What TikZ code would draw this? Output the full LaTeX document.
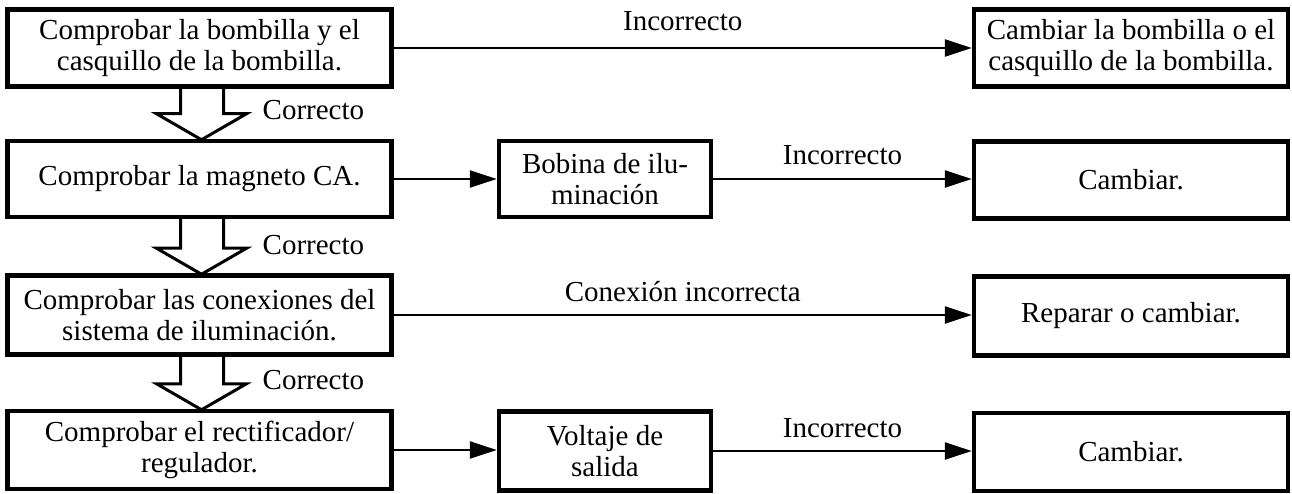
\documentclass[tikz,border=0pt]{standalone}
\usepackage{fontspec}
\setmainfont{Liberation Serif}
\usetikzlibrary{arrows.meta,calc}
\begin{document}
\begin{tikzpicture}[x=1pt,y=-1pt,
  box/.style={draw,line width=4.5pt,rectangle,align=center,inner sep=0pt,
    font=\fontsize{29}{31}\selectfont},
  conn/.style={line width=2.5pt,-{Triangle[length=27pt,width=17pt]}},
  lbl/.style={font=\fontsize{29}{31}\selectfont,inner sep=0pt},
  hollow/.style={line width=3pt,line join=miter}]
\fill[white] (0,0) rectangle (1292,494);
\useasboundingbox (0,0) rectangle (1292,494);
% left column
\node[box,minimum width=384pt,minimum height=77pt] (l1) at (199.5,48) {Comprobar la bombilla y el\\casquillo de la bombilla.};
\node[box,minimum width=384pt,minimum height=76pt] (l2) at (199.5,179) {Comprobar la magneto CA.};
\node[box,minimum width=384pt,minimum height=79pt] (l3) at (199.5,315) {Comprobar las conexiones del\\sistema de iluminación.};
\node[box,minimum width=384pt,minimum height=78pt] (l4) at (199.5,450) {Comprobar el rectificador/\\regulador.};
% middle column
\node[box,minimum width=212pt,minimum height=76pt] (m2) at (605,179) {Bobina de ilu-\\minación};
\node[box,minimum width=212pt,minimum height=79pt] (m4) at (605,451) {Voltaje de\\salida};
% right column
\node[box,minimum width=314pt,minimum height=77pt] (r1) at (1131,48) {Cambiar la bombilla o el\\casquillo de la bombilla.};
\node[box,minimum width=314pt,minimum height=77pt] (r2) at (1131,180) {Cambiar.};
\node[box,minimum width=314pt,minimum height=79pt] (r3) at (1131,316) {Reparar o cambiar.};
\node[box,minimum width=314pt,minimum height=78pt] (r4) at (1131,452) {Cambiar.};
% connectors
\draw[conn] (l1.east) -- node[lbl,midway,anchor=base,yshift=17pt] (t1) {Incorrecto} (r1.west |- l1.east);
\draw[conn] (l2.east) -- (m2.west |- l2.east);
\draw[conn] (m2.east) -- node[lbl,midway,anchor=base,yshift=14pt] (t2) {Incorrecto} (r2.west |- m2.east);
\draw[conn] (l3.east) -- node[lbl,midway,anchor=base,yshift=14pt] (t3) {Conexión incorrecta} (r3.west |- l3.east);
\draw[conn] (l4.east) -- (m4.west |- l4.east);
\draw[conn] (m4.east) -- node[lbl,midway,anchor=base,yshift=14pt] (t4) {Incorrecto} (r4.west |- m4.east);
% hollow arrows
\foreach \a/\b/\n in {l1/l2/c1,l2/l3/c2,l3/l4/c3}{
  \draw[hollow] ([xshift=-19pt,yshift=2pt]\a.south) -- ([xshift=-19pt,yshift=25pt]\b.north)
    -- ([xshift=-43pt,yshift=25pt]\b.north) -- ([xshift=2pt,yshift=-1pt]\b.north)
    -- ([xshift=47pt,yshift=25pt]\b.north) -- ([xshift=24pt,yshift=25pt]\b.north)
    -- ([xshift=24pt,yshift=2pt]\a.south);
  \node[lbl,anchor=base west] (\n) at ([xshift=63pt,yshift=19pt]\b.north) {Correcto};
}
\end{tikzpicture}
\end{document}
